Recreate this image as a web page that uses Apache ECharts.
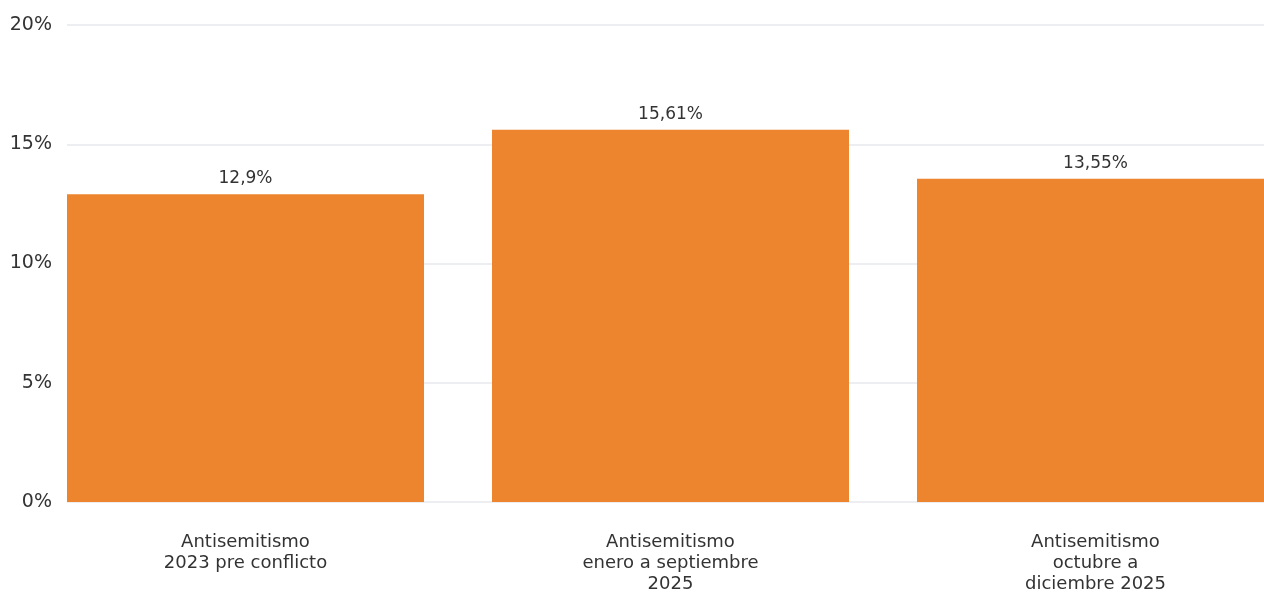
<!DOCTYPE html>
<html>
<head>
<meta charset="utf-8">
<script src="https://cdn.jsdelivr.net/npm/echarts@6/dist/echarts.min.js"></script>
<style>
  html, body { margin: 0; padding: 0; background: #fff; }
  #chart { width: 1264px; height: 594px; }
</style>
</head>
<body>
<div id="chart"></div>
<script>
const categories = [
  'Antisemitismo\n2023 pre conflicto',
  'Antisemitismo\nenero a septiembre\n2025',
  'Antisemitismo\noctubre a\ndiciembre 2025'
];
const values = [12.9, 15.61, 13.55];
const yTicks = [0, 5, 10, 15, 20];

const font = '"DejaVu Sans", sans-serif';
const fmt = v => String(v).replace('.', ',') + '%';

let myChart = echarts.init(document.getElementById('chart'));
let option = {
  animation: false,
  grid: [
    { left: 67, right: 0, top: 25, bottom: 92, outerBoundsMode: 'none' },
    { left: 33, width: 1275, top: 25, bottom: 92, outerBoundsMode: 'none' }
  ],
  xAxis: [
    { gridIndex: 0, type: 'category', data: categories, show: false },
    {
      gridIndex: 1,
      type: 'category',
      data: categories,
      axisLine: { show: false },
      axisTick: { show: false },
      axisLabel: {
        margin: 30,
        fontFamily: font,
        fontSize: 18,
        lineHeight: 21,
        color: '#333'
      }
    }
  ],
  yAxis: [
    {
      gridIndex: 0,
      type: 'value',
      min: yTicks[0],
      max: yTicks[yTicks.length - 1],
      interval: 5,
      axisLabel: {
        margin: 15,
        fontFamily: font,
        fontSize: 19,
        color: '#333',
        formatter: v => v + '%'
      },
      splitLine: { lineStyle: { color: '#e6e8ec', width: 1.5 } }
    },
    {
      gridIndex: 1,
      type: 'value',
      min: yTicks[0],
      max: yTicks[yTicks.length - 1],
      interval: 5,
      show: false,
      splitLine: { show: false }
    }
  ],
  series: [
    {
      type: 'bar',
      xAxisIndex: 1,
      yAxisIndex: 1,
      data: values,
      barCategoryGap: '16%',
      itemStyle: { color: '#ec852d' },
      label: {
        show: true,
        position: 'top',
        distance: 7,
        fontFamily: font,
        fontSize: 17,
        color: '#333',
        formatter: p => fmt(p.value)
      }
    }
  ]
};
myChart.setOption(option);
</script>
</body>
</html>
